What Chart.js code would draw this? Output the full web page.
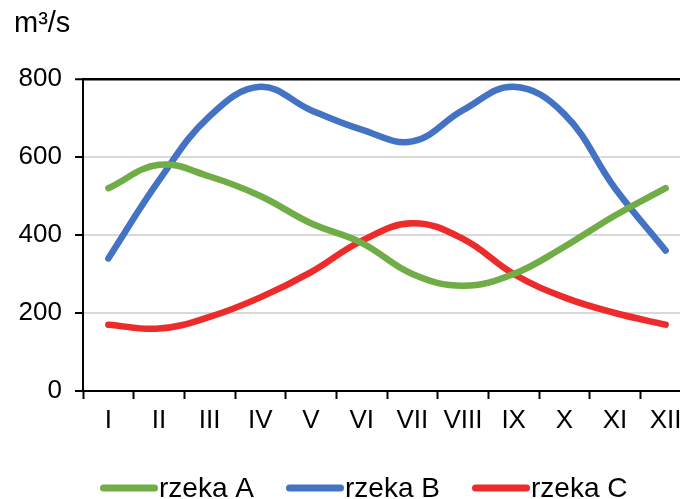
<!DOCTYPE html>
<html>
<head>
<meta charset="utf-8">
<script src="https://cdn.jsdelivr.net/npm/chart.js@4.4.1/dist/chart.umd.min.js"></script>
<style>
  body { margin: 0; overflow: hidden; background: #fff; }
  canvas { display: block; }
</style>
</head>
<body>
<canvas id="flowChart" width="700" height="499"></canvas>
<script>
// months as roman numerals
const months = ['I', 'II', 'III', 'IV', 'V', 'VI', 'VII', 'VIII', 'IX', 'X', 'XI', 'XII'];

// mean flow, m3/s
const riverA = [520, 580, 550, 500, 430, 380, 300, 270, 300, 370, 450, 520];
const riverB = [340, 540, 705, 780, 720, 670, 640, 720, 780, 710, 520, 360];
const riverC = [170, 160, 190, 240, 305, 385, 430, 390, 300, 240, 200, 170];

const seriesNames = ['rzeka A', 'rzeka B', 'rzeka C'];
const seriesColors = ['#70AD47', '#4472C4', '#EE2B2B'];

const yTicks = [0, 200, 400, 600, 800];

const FONT = "'Liberation Sans', Arial, sans-serif";

// draws the unit label and the legend (line swatch right next to text)
const extrasPlugin = {
    id: 'extras',
    afterDraw(chart) {
        const ctx = chart.ctx;
        ctx.save();
        ctx.fillStyle = '#000';
        ctx.font = '29px ' + FONT;
        ctx.textBaseline = 'alphabetic';
        ctx.textAlign = 'left';
        ctx.fillText('m³/s', 14, 32);

        ctx.font = '28px ' + FONT;
        const startX = [100, 286, 472];
        const lineY = 488;
        chart.data.datasets.forEach((ds, i) => {
            const x = startX[i];
            ctx.strokeStyle = ds.borderColor;
            ctx.lineWidth = 7;
            ctx.lineCap = 'round';
            ctx.beginPath();
            ctx.moveTo(x + 3.5, lineY);
            ctx.lineTo(x + 54.5, lineY);
            ctx.stroke();
            ctx.fillStyle = '#000';
            ctx.fillText(ds.label, x + 59, 497);
        });
        ctx.restore();
    }
};

const ctx = document.getElementById('flowChart').getContext('2d');
const chart = new Chart(ctx, {
    type: 'line',
    data: {
        labels: months,
        datasets: [riverA, riverB, riverC].map((values, i) => ({
            label: seriesNames[i],
            data: values,
            borderColor: seriesColors[i],
            backgroundColor: seriesColors[i],
            borderWidth: 6.5,
            borderCapStyle: 'round',
            pointRadius: 0,
            tension: 0.4,
            fill: false
        }))
    },
    options: {
        responsive: false,
        animation: false,
        layout: { padding: { top: 79, left: 0, right: 9, bottom: 58 } },
        plugins: {
            legend: { display: false },
            tooltip: { enabled: false }
        },
        scales: {
            x: {
                offset: true,
                grid: {
                    offset: true,
                    drawOnChartArea: false,
                    drawTicks: true,
                    tickLength: 8,
                    tickColor: '#000',
                    tickWidth: 2
                },
                border: { color: '#000', width: 2 },
                ticks: {
                    color: '#000',
                    font: { family: FONT, size: 26 },
                    padding: 6,
                    maxRotation: 0,
                    autoSkip: false
                },
                afterFit(scale) { scale.height = 50; }
            },
            y: {
                min: 0,
                max: 800,
                afterBuildTicks(scale) {
                    scale.ticks = yTicks.map(v => ({ value: v }));
                },
                grid: {
                    color: ctx => ctx.tick && ctx.tick.value === 800 ? '#000' : '#d9d9d9',
                    lineWidth: ctx => ctx.tick && ctx.tick.value === 800 ? 2.5 : 2,
                    tickLength: 8,
                    tickColor: '#000',
                    tickWidth: 2
                },
                border: { color: '#000', width: 2 },
                ticks: {
                    color: '#000',
                    font: { family: FONT, size: 26 },
                    padding: 13
                },
                afterFit(scale) { scale.width = 83; }
            }
        }
    },
    plugins: [extrasPlugin]
});
</script>
</body>
</html>
